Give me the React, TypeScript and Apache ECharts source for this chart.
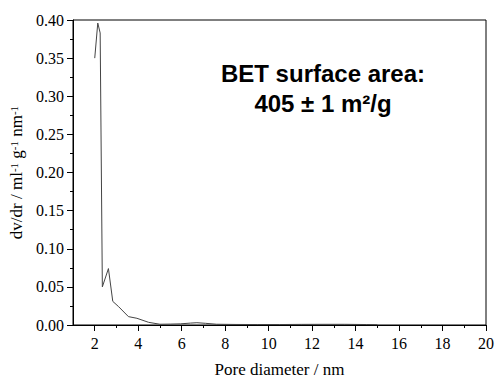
import React, { useEffect, useRef } from "react";
import * as echarts from "echarts";

const poreDiameter = [2.0, 2.14, 2.25, 2.35, 2.63, 2.83, 3.1, 3.55, 3.94, 4.48, 5.0, 5.5, 5.94, 6.4, 6.7, 7.1, 7.6, 8.5, 9.5, 10.5, 11.5, 12.5, 13.5, 14.5, 15.0];
const dvdr = [0.35, 0.396, 0.383, 0.05, 0.074, 0.031, 0.024, 0.011, 0.0088, 0.0035, 0.001, 0.0012, 0.0015, 0.0025, 0.003, 0.0022, 0.001, 0.0007, 0.0006, 0.0006, 0.0008, 0.0009, 0.0009, 0.0006, 0.0003];
const xMajorTicks = [2, 4, 6, 8, 10, 12, 14, 16, 18, 20];
const xMinorTicks = [3, 5, 7, 9, 11, 13, 15, 17, 19];

const serif = "Liberation Serif";

export default function App() {
  const ref = useRef<HTMLDivElement>(null);
  useEffect(() => {
    document.body.style.margin = "0";
    const chart = echarts.init(ref.current!, null, { renderer: "svg" });
    const data = poreDiameter.map((x, i) => [x, dvdr[i]]);
    chart.setOption({
      animation: false,
      backgroundColor: "#fff",
      textStyle: { fontFamily: serif },
      grid: {
        left: 73,
        top: 20,
        right: 9,
        bottom: 54,
        show: true,
        borderColor: "#000",
        borderWidth: 1,
        containLabel: false,
        outerBoundsMode: "none",
      },
      xAxis: [
        {
          type: "value",
          min: 1,
          max: 20,
          name: "Pore diameter / nm",
          nameLocation: "middle",
          nameGap: 36,
          nameTextStyle: { fontFamily: serif, fontSize: 17, color: "#000" },
          axisLine: { lineStyle: { color: "#000", width: 1 } },
          axisTick: { show: true, length: 6, customValues: xMajorTicks, lineStyle: { color: "#000" } },
          axisLabel: {
            show: true,
            customValues: xMajorTicks,
            fontFamily: serif,
            fontSize: 16,
            color: "#000",
            margin: 10,
          },
          splitLine: { show: false },
        },
        {
          type: "value",
          min: 1,
          max: 20,
          position: "bottom",
          axisLine: { show: false },
          axisTick: { show: true, length: 3, customValues: xMinorTicks, lineStyle: { color: "#000" } },
          axisLabel: { show: false },
          splitLine: { show: false },
        },
      ],
      yAxis: {
        type: "value",
        min: 0,
        max: 0.4,
        interval: 0.05,
        name: "{t|dv/dr / ml}{s|-1}{t| g}{s|-1}{t| nm}{s|-1}",
        nameLocation: "middle",
        nameGap: 46,
        nameTextStyle: {
          color: "#000",
          rich: {
            t: { fontFamily: serif, fontSize: 17, color: "#000", verticalAlign: "bottom" },
            s: { fontFamily: serif, fontSize: 11, color: "#000", verticalAlign: "top" },
          },
        },
        axisLine: { show: true, lineStyle: { color: "#000", width: 1 } },
        axisTick: { show: true, length: 6, lineStyle: { color: "#000" } },
        minorTick: { show: true, splitNumber: 2, length: 3, lineStyle: { color: "#000" } },
        axisLabel: {
          show: true,
          fontFamily: serif,
          fontSize: 16,
          color: "#000",
          margin: 9,
          formatter: (v: number) => v.toFixed(2),
        },
        splitLine: { show: false },
      },
      graphic: [
        {
          type: "text",
          x: 323,
          y: 58,
          style: {
            text: "BET surface area:\n405 ± 1 m²/g",
            font: "bold 24px 'Liberation Sans', Arial, sans-serif",
            fill: "#000",
            align: "center",
            verticalAlign: "top",
            lineHeight: 30,
          },
        },
      ],
      series: [
        {
          type: "line",
          data,
          showSymbol: false,
          symbol: "none",
          lineStyle: { color: "#444", width: 1 },
        },
      ],
    });
    return () => chart.dispose();
  }, []);
  return <div ref={ref} style={{ width: 495, height: 379 }} />;
}
